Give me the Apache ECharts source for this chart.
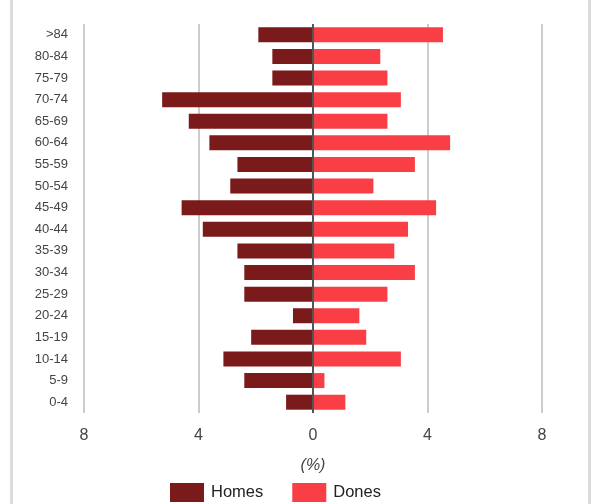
<!DOCTYPE html>
<html>
<head>
<meta charset="utf-8">
<script src="https://cdn.jsdelivr.net/npm/echarts@6/dist/echarts.min.js"></script>
<style>
html,body{margin:0;padding:0;background:#fff;}
#wrap{position:relative;width:592px;height:504px;}
#chart{position:absolute;left:0;top:0;width:592px;height:504px;}
.frame{position:absolute;top:0;width:3px;height:504px;background:#dcdcdc;}
</style>
</head>
<body>
<div id="wrap">
<div class="frame" style="left:10px"></div>
<div class="frame" style="left:588px"></div>
<div id="chart"></div>
</div>
<script>
const categories = ['0-4','5-9','10-14','15-19','20-24','25-29','30-34','35-39','40-44','45-49','50-54','55-59','60-64','65-69','70-74','75-79','80-84','>84'];
const homes = [0.94,2.40,3.13,2.16,0.70,2.40,2.40,2.64,3.85,4.59,2.89,2.64,3.62,4.34,5.27,1.42,1.42,1.91];
const dones = [1.13,0.40,3.07,1.86,1.62,2.60,3.56,2.84,3.32,4.30,2.11,3.56,4.79,2.60,3.07,2.60,2.35,4.54];
const xTicksMin = -8, xTicksMax = 8, xTickStep = 4;
const axisTitle = '(%)';
const seriesNames = ['Homes','Dones'];

const chart = echarts.init(document.getElementById('chart'), null, {renderer:'canvas'});
chart.setOption({
  animation:false,
  textStyle:{fontFamily:'Arial, "Liberation Sans", sans-serif'},
  legend:{
    data:seriesNames, left:165, top:478, itemWidth:34, itemHeight:19, itemGap:29,
    icon:'rect',
    textStyle:{fontSize:16.5, color:'#222', padding:[0,0,0,2]}
  },
  grid:{left:84, right:50, top:24, bottom:91, containLabel:false},
  xAxis:{
    type:'value', min:xTicksMin, max:xTicksMax, interval:xTickStep,
    axisLine:{show:false}, axisTick:{show:false},
    splitLine:{show:true, lineStyle:{color:'#cccccc', width:2}},
    axisLabel:{fontSize:16, color:'#444', margin:15, formatter:v=>String(Math.abs(v))},
    name:axisTitle, nameLocation:'middle', nameGap:45,
    nameTextStyle:{fontSize:16, fontStyle:'italic', color:'#444'}
  },
  yAxis:{
    type:'category', data:categories,
    axisLine:{show:false}, axisTick:{show:false}, splitLine:{show:false},
    axisLabel:{fontSize:13, color:'#444', margin:16}
  },
  series:[
    {name:seriesNames[0], type:'bar', stack:'p', barWidth:15,
     data:homes.map(v=>-v), itemStyle:{color:'#7a1a1a'},
     markLine:{silent:true, symbol:'none', label:{show:false},
       lineStyle:{color:'#555', width:2, type:'solid'}, data:[{xAxis:0}]}},
    {name:seriesNames[1], type:'bar', stack:'p', barWidth:15,
     data:dones, itemStyle:{color:'#fa3e46'}}
  ]
});
</script>
</body>
</html>
